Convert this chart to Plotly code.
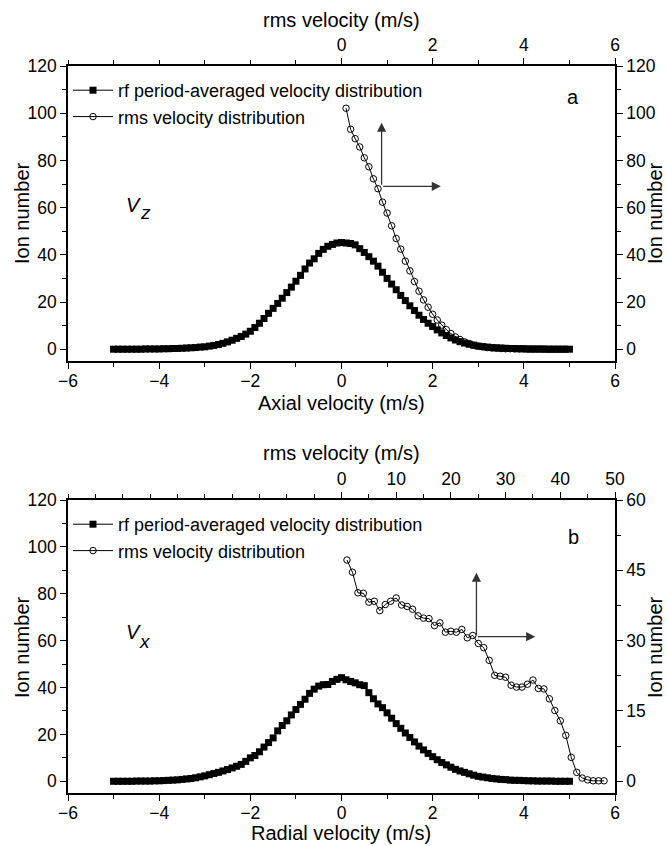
import numpy as np
import plotly.graph_objects as go

# ---------------- data ----------------
vel_grid = np.round(np.linspace(-5, 5, 101), 1)

axial_avg = [0, 0, 0, 0, 0, 0, 0, 0.1, 0.1, 0.1,
             0.1, 0.2, 0.2, 0.3, 0.3, 0.4, 0.5, 0.6, 0.7, 0.9,
             1.0, 1.3, 1.6, 2.0, 2.5, 3.1, 3.8, 4.6, 5.4, 6.4,
             7.6, 9.2, 11.0, 13.0, 15.2, 17.3, 19.4, 21.6, 24.0, 26.3,
             28.8, 31.3, 34.0, 36.5, 38.3, 40.6, 42.3, 43.6, 44.4, 45.0,
             45.2, 45.0, 44.8, 44.2, 42.6, 41.0, 39.2, 37.3, 35.2, 32.6,
             30.0, 27.6, 25.2, 22.8, 20.6, 18.4, 16.4, 14.4, 12.6, 11.0,
             9.6, 8.2, 6.9, 5.8, 4.8, 3.9, 3.2, 2.6, 2.1, 1.7,
             1.3, 1.1, 0.9, 0.7, 0.6, 0.5, 0.4, 0.3, 0.3, 0.2,
             0.2, 0.1, 0.1, 0.1, 0.1, 0, 0, 0, 0, 0, 0]

axial_rms_x = np.round(np.linspace(0.1, 4.9, 49), 1)
axial_rms = [102.1, 93.2, 89.2, 85.7, 81.1, 77.3, 72.2, 68.0, 62.3, 57.7,
             52.3, 46.9, 42.4, 37.3, 33.2, 28.7, 24.6, 20.9, 17.8, 14.8,
             12.4, 10.2, 8.3, 6.6, 5.2, 4.1, 3.1, 2.4, 1.7, 1.3,
             1.0, 0.7, 0.5, 0.4, 0.3, 0.2, 0.2, 0.1, 0.1, 0.1,
             0, 0, 0, 0, 0, 0, 0, 0, 0]

radial_avg = [0, 0, 0, 0, 0, 0.1, 0.1, 0.1, 0.1, 0.2,
              0.2, 0.3, 0.4, 0.5, 0.6, 0.8, 1.0, 1.2, 1.5, 1.9,
              2.3, 2.8, 3.3, 3.8, 4.4, 5.0, 5.7, 6.4, 7.2, 8.5,
              10.0, 11.0, 12.6, 14.6, 16.5, 18.5, 21.5, 23.8, 25.8, 28.3,
              30.6, 32.8, 35.0, 37.5, 39.3, 40.6, 41.2, 41.3, 42.6, 43.5,
              44.2, 43.3, 42.6, 42.0, 41.2, 40.8, 37.8, 35.2, 33.0, 31.4,
              29.2, 26.9, 24.6, 22.6, 20.6, 18.7, 16.8, 15.0, 13.4, 11.9,
              10.5, 9.2, 8.0, 7.0, 6.0, 5.1, 4.4, 3.8, 3.2, 2.6,
              2.1, 1.8, 1.5, 1.2, 1.0, 0.8, 0.7, 0.5, 0.4, 0.4,
              0.3, 0.2, 0.2, 0.1, 0.1, 0.1, 0.1, 0, 0, 0, 0]

radial_rms_x = list(range(1, 49))
radial_rms = [47.2, 44.6, 40.2, 40.1, 38.2, 38.4, 36.4, 37.7, 38.4, 39.1,
              37.6, 37.3, 36.7, 35.3, 34.8, 34.7, 33.2, 33.8, 31.8, 32.0,
              31.8, 32.4, 30.6, 31.1, 29.4, 28.5, 25.8, 22.6, 22.4, 22.2,
              20.5, 20.1, 20.1, 20.7, 21.6, 19.8, 19.7, 17.6, 15.1, 12.9,
              9.8, 5.1, 1.9, 0.7, 0.3, 0.1, 0.1, 0.1]

name_avg = "rf period-averaged velocity distribution"
name_rms = "rms velocity distribution"

bottom_ticks = [-6, -4, -2, 0, 2, 4, 6]
top_ticks_a = [0, 2, 4, 6]
top_ticks_b = [0, 10, 20, 30, 40, 50]
left_ticks = [0, 20, 40, 60, 80, 100, 120]
right_ticks_b = [0, 15, 30, 45, 60]

# ---------------- layout helpers ----------------
W, H = 667, 846
FONT = "Liberation Sans, Arial, sans-serif"
def px(x):
    return x / W
def py(y):
    return 1 - y / H

X_DOM = [px(68), px(615)]
TOP_DOM = [py(361), py(66)]
BOT_DOM = [py(793), py(500)]

fig = go.Figure()

sq = dict(symbol="square", size=7, color="black")
ci = dict(symbol="circle-open", size=6.5, color="black", line=dict(width=1))
ln = dict(color="black", width=1)

fig.add_trace(go.Scatter(x=vel_grid, y=axial_avg, mode="lines+markers", name=name_avg,
                         marker=sq, line=ln, xaxis="x", yaxis="y", legend="legend"))
fig.add_trace(go.Scatter(x=axial_rms_x, y=axial_rms, mode="lines+markers", name=name_rms,
                         marker=ci, line=ln, xaxis="x2", yaxis="y2", legend="legend"))
fig.add_trace(go.Scatter(x=vel_grid, y=radial_avg, mode="lines+markers", name=name_avg,
                         marker=sq, line=ln, xaxis="x3", yaxis="y3", legend="legend2"))
fig.add_trace(go.Scatter(x=radial_rms_x, y=radial_rms, mode="lines+markers", name=name_rms,
                         marker=ci, line=ln, xaxis="x4", yaxis="y4", legend="legend2"))

tickfont = dict(family=FONT, size=17.5, color="black")
common = dict(showline=True, linecolor="black", linewidth=1.5, ticks="outside",
              ticklen=6, tickwidth=1.2, tickcolor="black", showgrid=False,
              zeroline=False, tickfont=tickfont, automargin=False, tickmode="array")

def minor(d, t0):
    return dict(dtick=d, tick0=t0, ticks="outside", ticklen=4, tickwidth=1.2,
                tickcolor="black", showgrid=False)

fig.update_layout(
    xaxis=dict(domain=X_DOM, anchor="y", range=[-6, 6], tickvals=bottom_ticks,
               minor=minor(1, -6), ticklabelstandoff=-3, **common),
    xaxis2=dict(overlaying="x", anchor="y", side="top", range=[-6, 6],
                tickvals=top_ticks_a, minor=minor(1, -6), **common),
    yaxis=dict(domain=TOP_DOM, anchor="x", range=[-5, 120], tickvals=left_ticks,
               minor=minor(10, 0), **common),
    yaxis2=dict(overlaying="y", anchor="x", side="right", range=[-5, 120],
                tickvals=left_ticks, minor=minor(10, 0), **common),
    xaxis3=dict(domain=X_DOM, anchor="y3", range=[-6, 6], tickvals=bottom_ticks,
                minor=minor(1, -6), ticklabelstandoff=-3, **common),
    xaxis4=dict(overlaying="x3", anchor="y3", side="top", range=[-50, 50],
                tickvals=top_ticks_b, minor=minor(5, -50), **common),
    yaxis3=dict(domain=BOT_DOM, anchor="x3", range=[-5, 120], tickvals=left_ticks,
                minor=minor(10, 0), **common),
    yaxis4=dict(overlaying="y3", anchor="x3", side="right", range=[-2.5, 60],
                tickvals=right_ticks_b, minor=minor(7.5, 0), **common),
)

legfont = dict(family=FONT, size=18, color="black")
fig.update_layout(
    width=W, height=H, margin=dict(l=0, r=0, t=0, b=0),
    paper_bgcolor="white", plot_bgcolor="white",
    font=dict(family=FONT, size=18, color="black"),
    legend=dict(x=px(68), y=py(72), xanchor="left", yanchor="top", bgcolor="rgba(0,0,0,0)",
                font=legfont, itemwidth=40, tracegroupgap=0),
    legend2=dict(x=px(68), y=py(506), xanchor="left", yanchor="top", bgcolor="rgba(0,0,0,0)",
                 font=legfont, itemwidth=40, tracegroupgap=0),
)

def label(text, x, y, angle=0, size=20):
    fig.add_annotation(text=text, x=px(x), y=py(y), xref="paper", yref="paper",
                       showarrow=False, textangle=angle,
                       font=dict(family=FONT, size=size, color="black"),
                       xanchor="center", yanchor="middle")

label("rms velocity (m/s)", 341, 20)
label("Axial velocity (m/s)", 341, 403)
label("Ion number", 22, 213, -90)
label("Ion number", 655, 213, -90)
label("rms velocity (m/s)", 341, 453)
label("Radial velocity (m/s)", 341, 833)
label("Ion number", 22, 647, -90)
label("Ion number", 655, 647, -90)
label("a", 573, 97, size=20)
label("b", 573, 537, size=20)
# italic V with a full-size, lowered subscript letter
label("<i>V</i>", 133, 205, size=20)
label("<i>z</i>", 145, 213, size=19)
label("<i>V</i>", 133, 632, size=20)
label("<i>x</i>", 145, 641, size=19)

# arrows
acol = "#333333"
def arrow(xr, yr, x0, y0, x1, y1):
    fig.add_annotation(x=x1, y=y1, ax=x0, ay=y0, xref=xr, yref=yr, axref=xr, ayref=yr,
                       text="", showarrow=True, arrowhead=2, arrowsize=1.4,
                       arrowwidth=1.3, arrowcolor=acol)

arrow("x", "y", 0.88, 69, 0.88, 96)
arrow("x", "y", 0.88, 69, 2.18, 69)
arrow("x3", "y3", 2.96, 61.7, 2.96, 89)
arrow("x3", "y3", 2.96, 61.7, 4.25, 61.7)

# remove the browser's default 8px page margin so the figure fills the window exactly
fig.write_html("out.html", config={"displayModeBar": False},
               post_script="document.body.style.margin='0px';document.body.style.overflow='hidden';")
